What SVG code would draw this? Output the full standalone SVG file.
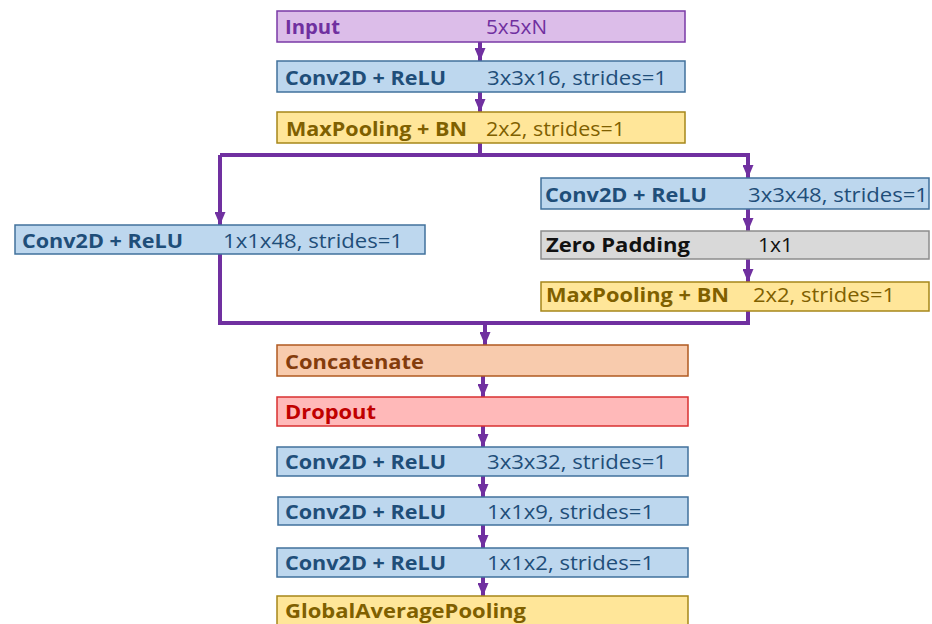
<svg xmlns="http://www.w3.org/2000/svg" width="932" height="624" viewBox="0 0 932 624">
<defs>
<marker id="ah" viewBox="0 0 13 11" refX="13" refY="5.5" markerWidth="13" markerHeight="11" markerUnits="userSpaceOnUse" orient="auto">
<path d="M0,0 L13,5.5 L0,11 Z" fill="#7030a0"/>
</marker>
<style>
.b{stroke-width:1.5}
text{font-family:"Open Sans",Lato,"Liberation Sans",sans-serif;font-size:20px}
.l{font-weight:bold}
.in rect{fill:#dcbde9;stroke:#7a3aa6}
.in text{fill:#7030a0}
.cv rect{fill:#bdd7ee;stroke:#41719c}
.cv text{fill:#1f4e79}
.mp rect{fill:#ffe699;stroke:#a6871a}
.mp text{fill:#7f6000}
.zp rect{fill:#d9d9d9;stroke:#8c8c8c}
.zp text{fill:#111}
.cc rect{fill:#f8cbad;stroke:#b05a20}
.cc text{fill:#843c0c}
.dp rect{fill:#ffb9b9;stroke:#d93030}
.dp text{fill:#c00000}
.cn path{fill:none;stroke:#7030a0;stroke-width:4}
.cn path.a{marker-end:url(#ah)}
</style>
</defs>
<rect width="932" height="624" fill="#fff"/>
<g class="cn">
<path class="a" d="M480,42 V61"/>
<path class="a" d="M480,92 V112"/>
<path d="M480,143 V155"/>
<path d="M220,155 H750"/>
<path class="a" d="M220,155 V225"/>
<path class="a" d="M748,155 V178"/>
<path class="a" d="M748,209 V231"/>
<path class="a" d="M748,259 V282"/>
<path d="M220,254 V323 H748 V311"/>
<path class="a" d="M485,323 V345"/>
<path class="a" d="M483,376 V397"/>
<path class="a" d="M483,426 V447"/>
<path class="a" d="M483,476 V497"/>
<path class="a" d="M483,525 V548"/>
<path class="a" d="M483,577 V596"/>
</g>
<g id="input" class="in"><rect class="b" x="277" y="11" width="408" height="31"/><text class="l" x="285" y="34" textLength="55" lengthAdjust="spacingAndGlyphs">Input</text><text x="486" y="34" textLength="61" lengthAdjust="spacingAndGlyphs">5x5xN</text></g>
<g id="conv1" class="cv"><rect class="b" x="277" y="61" width="408" height="31"/><text class="l" x="285" y="85" textLength="161" lengthAdjust="spacingAndGlyphs">Conv2D + ReLU</text><text x="487" y="85" textLength="180" lengthAdjust="spacingAndGlyphs">3x3x16, strides=1</text></g>
<g id="pool1" class="mp"><rect class="b" x="277" y="112" width="408" height="31"/><text class="l" x="286" y="136" textLength="181" lengthAdjust="spacingAndGlyphs">MaxPooling + BN</text><text x="486" y="136" textLength="139" lengthAdjust="spacingAndGlyphs">2x2, strides=1</text></g>
<g id="convL" class="cv"><rect class="b" x="15" y="225" width="410" height="29"/><text class="l" x="22" y="248" textLength="161" lengthAdjust="spacingAndGlyphs">Conv2D + ReLU</text><text x="223" y="248" textLength="180" lengthAdjust="spacingAndGlyphs">1x1x48, strides=1</text></g>
<g id="convR" class="cv"><rect class="b" x="541" y="178" width="388" height="31"/><text class="l" x="545" y="202" textLength="162" lengthAdjust="spacingAndGlyphs">Conv2D + ReLU</text><text x="748" y="202" textLength="180" lengthAdjust="spacingAndGlyphs">3x3x48, strides=1</text></g>
<g id="zeropad" class="zp"><rect class="b" x="541" y="231" width="388" height="28"/><text class="l" x="546" y="252" textLength="144" lengthAdjust="spacingAndGlyphs">Zero Padding</text><text x="758" y="252" textLength="35" lengthAdjust="spacingAndGlyphs">1x1</text></g>
<g id="poolR" class="mp"><rect class="b" x="541" y="282" width="388" height="29"/><text class="l" x="546" y="302" textLength="183" lengthAdjust="spacingAndGlyphs">MaxPooling + BN</text><text x="753" y="302" textLength="142" lengthAdjust="spacingAndGlyphs">2x2, strides=1</text></g>
<g id="concat" class="cc"><rect class="b" x="277" y="345" width="411" height="31"/><text class="l" x="285" y="369" textLength="139" lengthAdjust="spacingAndGlyphs">Concatenate</text></g>
<g id="dropout" class="dp"><rect class="b" x="277" y="397" width="411" height="29"/><text class="l" x="285" y="419" textLength="91" lengthAdjust="spacingAndGlyphs">Dropout</text></g>
<g id="conv2" class="cv"><rect class="b" x="277" y="447" width="411" height="29"/><text class="l" x="285" y="469" textLength="161" lengthAdjust="spacingAndGlyphs">Conv2D + ReLU</text><text x="487" y="469" textLength="180" lengthAdjust="spacingAndGlyphs">3x3x32, strides=1</text></g>
<g id="conv3" class="cv"><rect class="b" x="278" y="497" width="410" height="28"/><text class="l" x="285" y="519" textLength="161" lengthAdjust="spacingAndGlyphs">Conv2D + ReLU</text><text x="487" y="519" textLength="167" lengthAdjust="spacingAndGlyphs">1x1x9, strides=1</text></g>
<g id="conv4" class="cv"><rect class="b" x="277" y="548" width="411" height="29"/><text class="l" x="285" y="570" textLength="161" lengthAdjust="spacingAndGlyphs">Conv2D + ReLU</text><text x="487" y="570" textLength="167" lengthAdjust="spacingAndGlyphs">1x1x2, strides=1</text></g>
<g id="gap" class="mp"><rect class="b" x="277" y="596" width="411" height="40"/><text class="l" x="285" y="618" textLength="241" lengthAdjust="spacingAndGlyphs">GlobalAveragePooling</text></g>
</svg>
